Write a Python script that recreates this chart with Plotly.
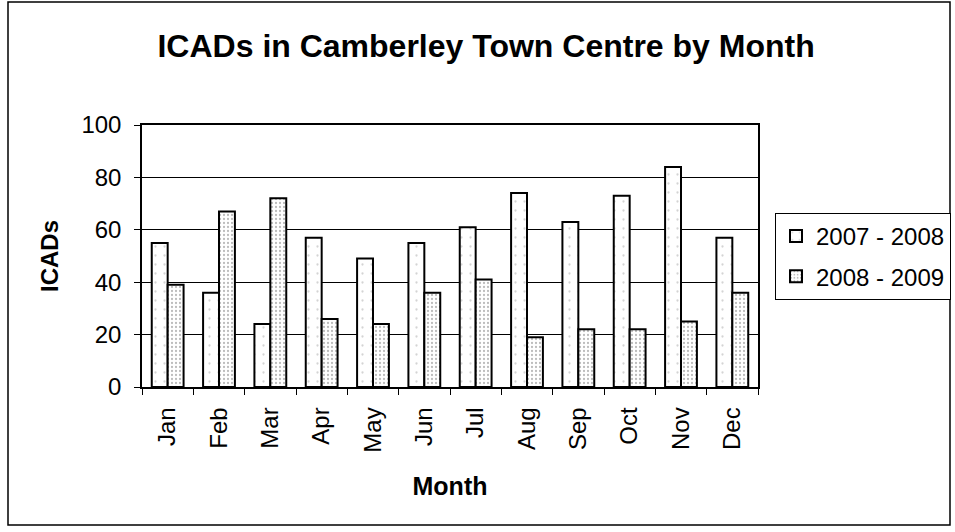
import plotly.graph_objects as go

months = ["Jan", "Feb", "Mar", "Apr", "May", "Jun", "Jul", "Aug", "Sep", "Oct", "Nov", "Dec"]
s_2007_2008 = [55, 36, 24, 57, 49, 55, 61, 74, 63, 73, 84, 57]
s_2008_2009 = [39, 67, 72, 26, 24, 36, 41, 19, 22, 22, 25, 36]
y_ticks = [0, 20, 40, 60, 80, 100]

FONT = "Liberation Sans, Arial, sans-serif"

fig = go.Figure()
fig.add_trace(go.Bar(
    x=months, y=s_2007_2008, name="2007 - 2008", legendgroup="a",
    marker=dict(color="white", line=dict(color="black", width=2),
                pattern=dict(shape=".", fgcolor="#aaaaaa", bgcolor="white", size=9, solidity=0.05)),
))
fig.add_trace(go.Bar(
    x=months, y=s_2008_2009, name="2008 - 2009", legendgroup="b",
    marker=dict(color="white", line=dict(color="black", width=2),
                pattern=dict(shape=".", fgcolor="#777777", bgcolor="white", size=4, solidity=0.25)),
))

fig.update_layout(
    width=955, height=532,
    margin=dict(l=142, r=197, t=125, b=145, autoexpand=False),
    paper_bgcolor="white", plot_bgcolor="white",
    barmode="group", bargap=0.38, bargroupgap=0,
    font=dict(family=FONT, color="black"),
    title=dict(text="<b>ICADs in Camberley Town Centre by Month</b>",
               x=0.509, xanchor="center", y=1 - 46 / 532, yanchor="middle",
               font=dict(size=32, family=FONT, color="black")),
    legend=dict(xref="container", yref="container",
                x=775 / 955, y=1 - 213 / 532, xanchor="left", yanchor="top",
                bordercolor="black", borderwidth=1, bgcolor="white",
                font=dict(size=24, family=FONT), tracegroupgap=6,
                itemwidth=30),
    showlegend=True,
)
fig.update_xaxes(
    title=dict(text="<b>Month</b>", font=dict(size=25, family=FONT), standoff=26),
    tickangle=-90, tickfont=dict(size=24, family=FONT), ticklabelstandoff=9,
    showline=True, linecolor="black", linewidth=1.5, mirror=True,
    ticks="outside", ticklen=6, tickcolor="black", tickson="boundaries",
    showgrid=False,
)
fig.update_yaxes(
    title=dict(text="<b>ICADs</b>", font=dict(size=24, family=FONT), standoff=16),
    range=[0, 100], tickvals=y_ticks, tickfont=dict(size=24, family=FONT),
    ticklabelstandoff=8,
    showline=True, linecolor="black", linewidth=1.5, mirror=True,
    ticks="outside", ticklen=6, tickcolor="black",
    showgrid=True, gridcolor="black", gridwidth=1, zeroline=False,
)
# outer chart border
fig.add_shape(type="rect", xref="paper", yref="paper",
              x0=(8 - 142) / 616, x1=(950 - 142) / 616,
              y0=(387 - 525) / 262, y1=(387 - 2) / 262,
              line=dict(color="black", width=1.5), fillcolor="rgba(0,0,0,0)", layer="below")

fig.write_html("out.html", config={"displayModeBar": False},
               post_script="document.body.style.margin='0px';")
